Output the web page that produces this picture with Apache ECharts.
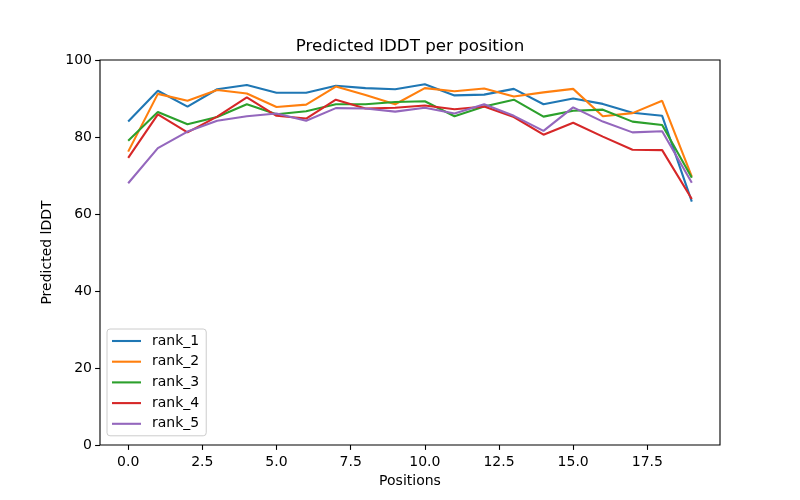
<!DOCTYPE html>
<html>
<head>
<meta charset="utf-8">
<script src="https://cdn.jsdelivr.net/npm/echarts@6/dist/echarts.min.js"></script>
<style>html,body{margin:0;padding:0;background:#fff}#c{width:800px;height:500px}</style>
</head>
<body>
<div id="c"></div>
<script>
const positions = [0,1,2,3,4,5,6,7,8,9,10,11,12,13,14,15,16,17,18,19];
const rank_1 = [84.0,92.0,87.9,92.4,93.5,91.5,91.5,93.3,92.7,92.4,93.7,90.8,91.0,92.5,88.5,90.0,88.6,86.3,85.5,63.2];
const rank_2 = [76.2,91.2,89.4,92.2,91.3,87.8,88.4,93.1,90.9,88.5,92.7,91.9,92.6,90.5,91.6,92.5,85.4,86.2,89.4,69.7];
const rank_3 = [79.0,86.5,83.3,85.2,88.5,85.9,86.7,88.5,88.5,89.1,89.3,85.4,87.9,89.7,85.3,86.8,87.1,84.0,83.1,69.4];
const rank_4 = [74.6,85.9,81.2,85.3,90.3,85.5,84.8,89.7,87.4,87.6,88.2,87.2,87.9,85.2,80.6,83.7,80.1,76.7,76.6,63.9];
const rank_5 = [68.0,77.1,81.4,84.2,85.4,86.1,84.2,87.5,87.4,86.6,87.6,86.1,88.5,85.5,81.6,87.7,84.0,81.2,81.5,68.1];
const seriesNames = ['rank_1','rank_2','rank_3','rank_4','rank_5'];
const xTicks = [0,2.5,5,7.5,10,12.5,15,17.5];
const yTicks = [0,20,40,60,80,100];

const allSeries = [rank_1, rank_2, rank_3, rank_4, rank_5];
const colors = ['#1f77b4','#ff7f0e','#2ca02c','#d62728','#9467bd'];
const font = 'DejaVu Sans';

const chart = echarts.init(document.getElementById('c'));
chart.setOption({
  animation: false,
  textStyle: {fontFamily: font, color: '#000'},
  title: {
    text: 'Predicted lDDT per position',
    left: 410, top: 38, textAlign: 'center', padding: 0,
    textStyle: {fontFamily: font, fontSize: 16.7, fontWeight: 'normal', color: '#000'}
  },
  grid: {left: 100, right: 80, top: 60, bottom: 55, show: true, borderColor: '#000', borderWidth: 1.1, backgroundColor: 'transparent'},
  legend: {
    orient: 'vertical', left: 107, top: 329,
    padding: [5, 7, 5, 5], itemGap: 6.7, itemWidth: 29, itemHeight: 14,
    backgroundColor: '#fff', borderColor: '#cccccc', borderWidth: 1, borderRadius: 3,
    textStyle: {fontFamily: font, fontSize: 14, color: '#000', padding: [0,0,0,6]},
    data: seriesNames.map(n => ({name: n, icon: 'path://M0,0 L29,0 L29,2.1 L0,2.1 Z'}))
  },
  xAxis: {
    type: 'value', min: -0.95, max: 19.95,
    name: 'Positions', nameLocation: 'middle', nameGap: 28,
    nameTextStyle: {fontFamily: font, fontSize: 14, color: '#000'},
    axisLine: {show: false, onZero: false},
    splitLine: {show: false},
    axisTick: {show: true, length: 4.9, lineStyle: {color: '#000', width: 1.1}, customValues: xTicks},
    axisLabel: {fontFamily: font, fontSize: 14, color: '#000', margin: 10, customValues: xTicks,
      formatter: v => v.toFixed(1)}
  },
  yAxis: {
    type: 'value', min: 0, max: 100, interval: 20,
    name: 'Predicted lDDT', nameLocation: 'middle', nameGap: 40,
    nameTextStyle: {fontFamily: font, fontSize: 14, color: '#000'},
    axisLine: {show: false, onZero: false},
    splitLine: {show: false},
    axisTick: {show: true, length: 4.9, lineStyle: {color: '#000', width: 1.1}, customValues: yTicks},
    axisLabel: {fontFamily: font, fontSize: 14, color: '#000', margin: 8, customValues: yTicks}
  },
  series: allSeries.map((d, i) => ({
    name: seriesNames[i], type: 'line', symbol: 'none', showSymbol: false,
    color: colors[i],
    lineStyle: {width: 2.1, color: colors[i]},
    data: positions.map((p, j) => [p, d[j]])
  }))
});
</script>
</body>
</html>
